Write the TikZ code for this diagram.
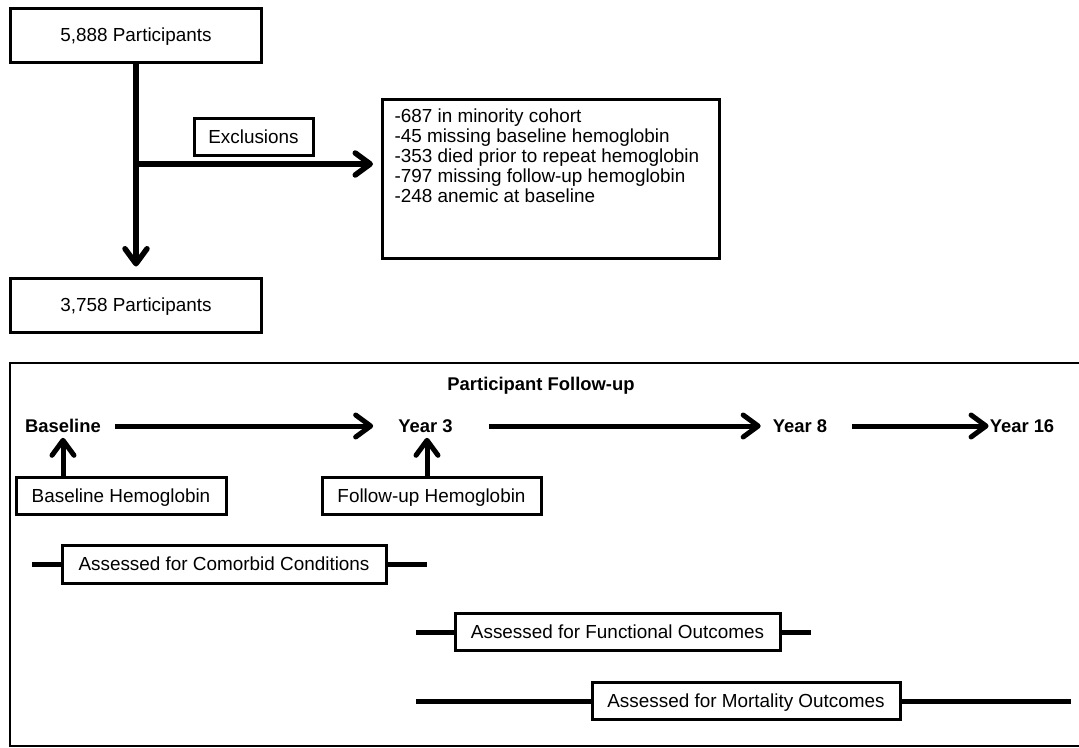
\documentclass[tikz,border=0pt]{standalone}
\usepackage{fontspec}
\setmainfont{Liberation Sans}
\usetikzlibrary{arrows.meta}
\newcommand\dfont{\fontsize{18.9}{20}\selectfont}
\newcommand\bfont{\fontsize{18.4}{20}\selectfont\bfseries}
\begin{document}
\begin{tikzpicture}[x=1pt,y=-1pt,
  frm/.style={draw, line width=3pt, inner sep=0pt, font=\dfont},
  box/.style={frm, align=center, text height=13.5pt, text depth=0pt},
  lbl/.style={inner sep=0pt, font=\bfont, text height=13.2pt, text depth=0pt},
  tip/.style={-{Straight Barb[length=15pt,width=22pt,line cap=round,line join=round]}},
  flow/.style={line width=5.5pt, tip},
  tl/.style={line width=5pt, tip},
  bar/.style={line width=5pt},
  frame/.style={line width=2.2pt}]
\useasboundingbox (0,0) rectangle (1079,747);

% top flow
\node[box, minimum width=251pt, minimum height=54pt] (p1) at (136,35) {5,888 Participants};
\node[box, minimum width=251pt, minimum height=54pt] (p2) at (136,305) {3,758 Participants};
\node[box, minimum width=119pt, minimum height=37pt] (ex) at (253.5,136.5) {Exclusions};
\node[frm, anchor=north west, align=left] (list) at (381,98)
 {\begin{minipage}[t][159pt][t]{337pt}\leftskip=12pt\parindent=0pt\baselineskip=20.2pt
  \vspace*{9pt}-687 in minority cohort\\
  -45 missing baseline hemoglobin\\
  -353 died prior to repeat hemoglobin\\
  -797 missing follow-up hemoglobin\\
  -248 anemic at baseline\end{minipage}};

\draw[flow, shorten >=10pt] (p1.south) -- (p2.north);
\coordinate (br) at (136,164);
\draw[flow, shorten >=8pt] (br) -- (list.west |- br);

% follow-up frame
\draw[frame] (1079,363) -- (10,363) -- (10,746) -- (1079,746);
\node[lbl] (pf) at (541,384) {Participant Follow-up};

\node[lbl] (base) at (63,426) {Baseline};
\node[lbl] (y3) at (425.5,426) {Year 3};
\node[lbl] (y8) at (800,426) {Year 8};
\node[lbl] (y16) at (1022,426) {Year 16};

\draw[tl] ([xshift=14pt]base.east) -- ([xshift=-25pt]y3.west);
\draw[tl] ([xshift=36pt]y3.east) -- ([xshift=-12pt]y8.west);
\draw[tl] ([xshift=25pt]y8.east) -- ([xshift=-1pt]y16.west);

\node[box, minimum width=210pt, minimum height=37pt] (bh) at (121,496) {Baseline Hemoglobin};
\node[box, minimum width=219pt, minimum height=37pt] (fh) at (431.5,496) {Follow-up Hemoglobin};
\draw[tl] (bh.north -| base.south) -- ([yshift=-5pt]base.south);
\draw[tl] (fh.north -| 427,0) -- ([xshift=1.5pt,yshift=-5pt]y3.south);

% assessment bars
\node[box, minimum width=324pt, minimum height=38pt] (com) at (224,564) {Assessed for Comorbid Conditions};
\coordinate (c1) at (32,564); \coordinate (c2) at (427,564);
\draw[bar] (c1) -- (com.west); \draw[bar] (com.east) -- (c2);

\node[box, minimum width=325pt, minimum height=37pt] (fun) at (617.5,632) {Assessed for Functional Outcomes};
\coordinate (f1) at (416,632); \coordinate (f2) at (811,632);
\draw[bar] (f1) -- (fun.west); \draw[bar] (fun.east) -- (f2);

\node[box, minimum width=308pt, minimum height=37pt] (mor) at (746,701) {Assessed for Mortality Outcomes};
\coordinate (m1) at (416,701); \coordinate (m2) at (1071,701);
\draw[bar] (m1) -- (mor.west); \draw[bar] (mor.east) -- (m2);
\end{tikzpicture}
\end{document}
